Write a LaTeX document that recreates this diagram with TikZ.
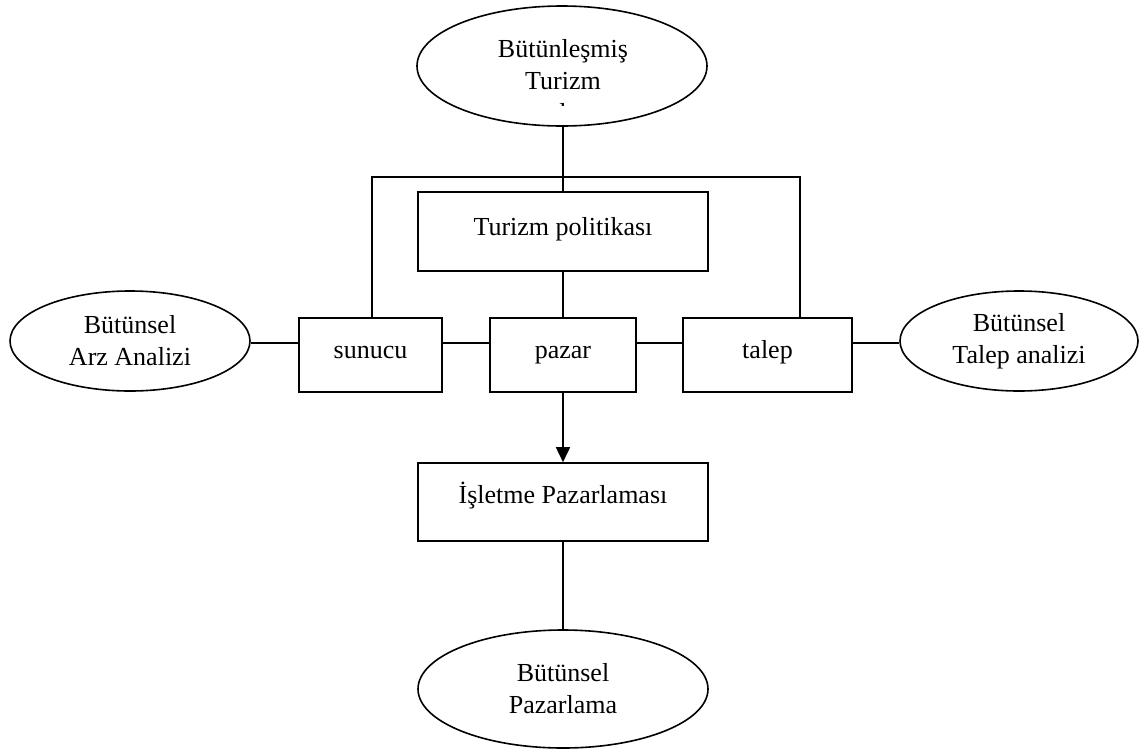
\documentclass[tikz,border=0pt]{standalone}
\usepackage{fontspec}
\setmainfont{Liberation Serif}
\usetikzlibrary{shapes.geometric,arrows.meta}
\begin{document}
\begin{tikzpicture}[x=1pt,y=-1pt,
  every node/.style={font=\fontsize{26}{32}\selectfont},
  conn/.style={line width=1.6pt},
  oval/.style={draw,line width=1.6pt,ellipse,inner sep=0pt,align=center},
  boxnode/.style={draw,line width=1.6pt,rectangle,inner sep=0pt,align=center,
    text height=18pt,text depth=6pt}]
  % canvas
  \fill[white] (0,0) rectangle (1146,753);
  \useasboundingbox (0,0) rectangle (1146,753);

  % ellipses
  \node[oval,minimum width=290pt,minimum height=120pt] (top) at (562,66) {};
  % the label's third line is cut off by its frame
  \begin{scope}
    \clip (420,10) rectangle (705,105.5);
    \node[align=center] (toptext) at (563,80) {Bütünleşmiş\\Turizm\\l};
  \end{scope}
  \node[oval,minimum width=240pt,minimum height=100pt] (arz) at (130,341) {Bütünsel\\Arz Analizi};
  \node[oval,minimum width=238pt,minimum height=100pt] (tal) at (1019,341) {Bütünsel\\Talep analizi};
  \node[oval,minimum width=290pt,minimum height=118pt] (bpz) at (563,689) {Bütünsel\\Pazarlama};

  % boxes (text depth sets each label's baseline inside its box)
  \node[boxnode,text depth=11pt,minimum width=290pt,minimum height=79pt] (pol) at (563,231.5) {Turizm politikası};
  \node[boxnode,text depth=12pt,minimum width=143pt,minimum height=74pt] (sun) at (370.5,355) {sunucu};
  \node[boxnode,text depth=12pt,minimum width=146pt,minimum height=74pt] (paz) at (563,355) {pazar};
  \node[boxnode,text depth=12pt,minimum width=169pt,minimum height=74pt] (tlp) at (767.5,355) {talep};
  \node[boxnode,text depth=16pt,minimum width=290pt,minimum height=78pt] (isl) at (563,502) {İşletme Pazarlaması};

  % frame joining sunucu and talep
  \coordinate (fl) at (372,177);
  \coordinate (fr) at (800,177);
  \coordinate (fls) at (372,318);
  \coordinate (frs) at (800,318);
  \draw[conn] (fls) -- (fl) -- (fr) -- (frs);

  % vertical links
  \coordinate (topb) at (563,126);
  \draw[conn] (topb) -- (pol.north);
  \draw[conn] (pol.south) -- (paz.north);
  \draw[conn,-{Triangle[length=15pt,width=14pt]}] (paz.south) -- (isl.north);
  \draw[conn] (isl.south) -- (bpz.north);

  % horizontal links
  \coordinate (a1) at (arz.east |- 0,343);
  \coordinate (s1) at (sun.west |- 0,343);
  \coordinate (s2) at (sun.east |- 0,343);
  \coordinate (p1) at (paz.west |- 0,343);
  \coordinate (p2) at (paz.east |- 0,343);
  \coordinate (t1) at (tlp.west |- 0,343);
  \coordinate (t2) at (tlp.east |- 0,343);
  \coordinate (b1) at (tal.west |- 0,343);
  \draw[conn] (a1) -- (s1);
  \draw[conn] (s2) -- (p1);
  \draw[conn] (p2) -- (t1);
  \draw[conn] (t2) -- (b1);
\end{tikzpicture}
\end{document}
